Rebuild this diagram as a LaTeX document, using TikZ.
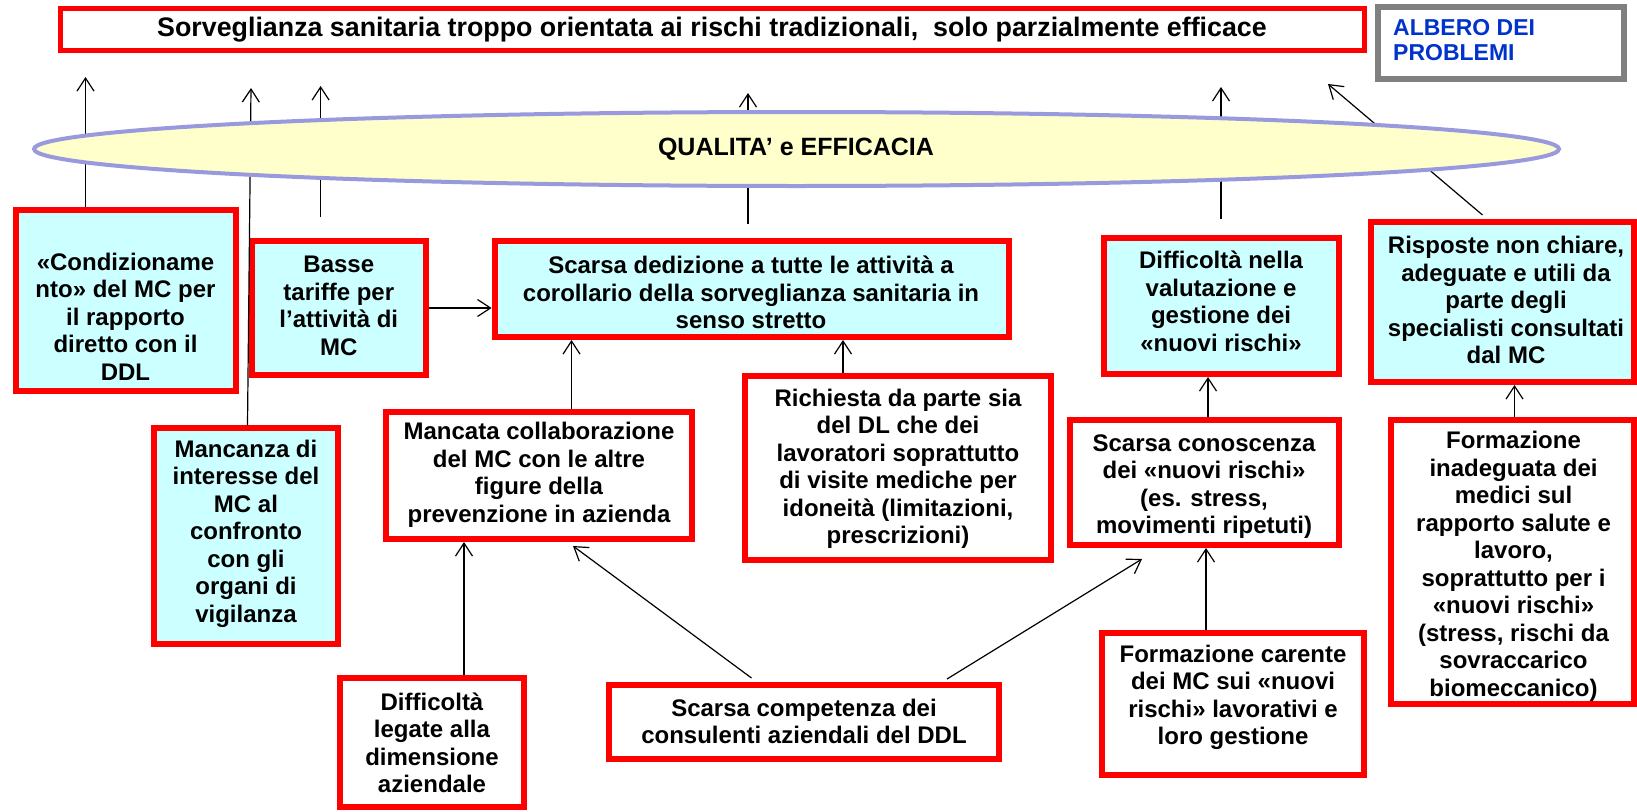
\documentclass[tikz,border=0pt]{standalone}
\usepackage{fontspec}
\setmainfont{Liberation Sans}
\usetikzlibrary{arrows.meta,shapes.geometric,calc}
\definecolor{boxred}{RGB}{255,0,0}
\definecolor{boxcyan}{RGB}{204,255,255}
\definecolor{ellfill}{RGB}{255,255,204}
\definecolor{elldraw}{RGB}{153,153,221}
\definecolor{tagblue}{RGB}{0,51,204}
\definecolor{taggray}{RGB}{128,128,128}
\newcommand{\boxfont}{\fontsize{24}{27.5}\selectfont\bfseries}
\begin{document}
\begin{tikzpicture}[x=1pt,y=-1pt,
  box/.style={draw=boxred, line width=6pt, outer sep=3pt, inner sep=0pt, fill=white},
  cbox/.style={box, fill=boxcyan},
  txt/.style={align=center, inner sep=0pt, font=\boxfont, text=black},
  conn/.style={line width=1.2pt, -{Straight Barb[length=13pt,width=17pt]}},
]
\useasboundingbox (0,0) rectangle (1637,811);

% boxes
\node[box, line width=5pt, outer sep=2.5pt, minimum width=1304pt, minimum height=42pt] (top) at (712.5,29.5) {};
\node[txt, font=\fontsize{26.8}{30}\selectfont\bfseries] (top-t) at (712,30) {Sorveglianza sanitaria troppo orientata ai rischi tradizionali,\ \ solo parzialmente efficace};

\node[draw=taggray, line width=6pt, outer sep=3pt, fill=white, minimum width=246pt, minimum height=72pt] (albero) at (1501,43) {};
\node[anchor=west, align=left, inner sep=0pt, text=tagblue, font=\fontsize{23}{25}\selectfont\bfseries] (albero-t) at (1393,40) {ALBERO DEI\\PROBLEMI};

\node[cbox, minimum width=220pt, minimum height=181pt] (cond) at (125.5,300.5) {};
\node[txt] (cond-t) at (125.5,316.5) {«Condizioname\\nto» del MC per\\il rapporto\\diretto con il\\DDL};

\node[cbox, minimum width=173.6pt, minimum height=134pt] (basse) at (338.8,308) {};
\node[txt] (basse-t) at (338.8,306) {Basse\\tariffe per\\l’attività di\\MC};

\node[cbox, minimum width=514pt, minimum height=96pt] (sded) at (751.6,289) {};
\node[txt] (sded-t) at (751,292.5) {Scarsa dedizione a tutte le attività a\\corollario della sorveglianza sanitaria in\\senso stretto};

\node[cbox, minimum width=235pt, minimum height=136pt] (diffval) at (1221,306) {};
\node[txt] (diffval-t) at (1221,301.5) {Difficoltà nella\\valutazione e\\gestione dei\\«nuovi rischi»};

\node[cbox, minimum width=263pt, minimum height=160pt] (risp) at (1502.5,302) {};
\node[txt] (risp-t) at (1506,300) {Risposte non chiare,\\adeguate e utili da\\parte degli\\specialisti consultati\\dal MC};

\node[box, minimum width=306pt, minimum height=184pt] (rich) at (898,468) {};
\node[txt] (rich-t) at (898,469) {Richiesta da parte sia\\del DL che dei\\lavoratori soprattutto\\di visite mediche per\\idoneità (limitazioni,\\prescrizioni)};

\node[box, minimum width=306pt, minimum height=127pt] (mancoll) at (539,475.5) {};
\node[txt] (mancoll-t) at (539,475) {Mancata collaborazione\\del MC con le altre\\figure della\\prevenzione in azienda};

\node[cbox, minimum width=184.3pt, minimum height=216pt] (mancanza) at (245.9,536) {};
\node[txt] (mancanza-t) at (246,533.7) {Mancanza di\\interesse del\\MC al\\confronto\\con gli\\organi di\\vigilanza};

\node[box, minimum width=184pt, minimum height=129pt] (difleg) at (432,742.5) {};
\node[txt] (difleg-t) at (432,742.7) {Difficoltà\\legate alla\\dimensione\\aziendale};

\node[box, minimum width=389.5pt, minimum height=74pt] (scomp) at (803.75,722) {};
\node[txt] (scomp-t) at (804,721.5) {Scarsa competenza dei\\consulenti aziendali del DDL};

\node[box, minimum width=269pt, minimum height=125pt] (sconosc) at (1204,482.5) {};
\node[txt] (sconosc-t) at (1204,486.5) {Scarsa conoscenza\\dei «nuovi rischi»\\(es. stress,\\movimenti ripetuti)};

\node[box, minimum width=262pt, minimum height=142pt] (formcar) at (1233,704) {};
\node[txt] (formcar-t) at (1233,697.5) {Formazione carente\\dei MC sui «nuovi\\rischi» lavorativi e\\loro gestione};

\node[box, minimum width=243pt, minimum height=284pt] (forminad) at (1512.5,562) {};
\node[txt] (forminad-t) at (1513.5,566.5) {Formazione\\inadeguata dei\\medici sul\\rapporto salute e\\lavoro,\\soprattutto per i\\«nuovi rischi»\\(stress, rischi da\\sovraccarico\\biomeccanico)};

% arrows crossing the ellipse
\coordinate (t1) at (85.5,77);
\draw[conn] (cond.north -| t1) -- (t1);
\coordinate (b2) at (247.5,0);
\coordinate (t2) at (251,88);
\draw[conn] (mancanza.north -| b2) -- (t2);
\coordinate (s3) at (320.6,217);
\coordinate (t3) at (320.6,86);
\draw[conn] (s3) -- (t3);
\coordinate (s4) at (748,224);
\coordinate (t4) at (748,93);
\draw[conn] (s4) -- (t4);
\coordinate (s5) at (1221,219);
\coordinate (t5) at (1221,87);
\draw[conn] (s5) -- (t5);
\coordinate (s6) at (1482.5,215);
\coordinate (t6) at (1328,84);
\draw[conn] (s6) -- (t6);

% ellipse
\node[ellipse, draw=elldraw, line width=4pt, fill=ellfill, minimum width=1525pt, minimum height=74pt, inner sep=0pt] (qual) at (796.5,149) {};
\node[txt, font=\fontsize{25}{28}\selectfont\bfseries] (qual-t) at (796,149) {QUALITA’ e EFFICACIA};

% other connectors
\draw[conn] (basse.east) -- (sded.west |- basse.east);
\coordinate (x1) at (843,0);
\draw[conn] (rich.north -| x1) -- (sded.south -| x1);
\coordinate (x2) at (571.5,0);
\draw[conn] (mancoll.north -| x2) -- (sded.south -| x2);
\coordinate (x3) at (464,0);
\draw[conn] (difleg.north -| x3) -- (mancoll.south -| x3);
\coordinate (s7) at (751.5,678);
\coordinate (t7) at (573,546);
\draw[conn] (s7) -- (t7);
\coordinate (s8) at (947,679);
\coordinate (t8) at (1142,559);
\draw[conn] (s8) -- (t8);
\coordinate (x4) at (1208,0);
\draw[conn] (sconosc.north -| x4) -- (diffval.south -| x4);
\coordinate (x5) at (1206,0);
\draw[conn] (formcar.north -| x5) -- (sconosc.south -| x5);
\coordinate (x6) at (1514.5,0);
\draw[conn] (forminad.north -| x6) -- (risp.south -| x6);
\end{tikzpicture}
\end{document}
